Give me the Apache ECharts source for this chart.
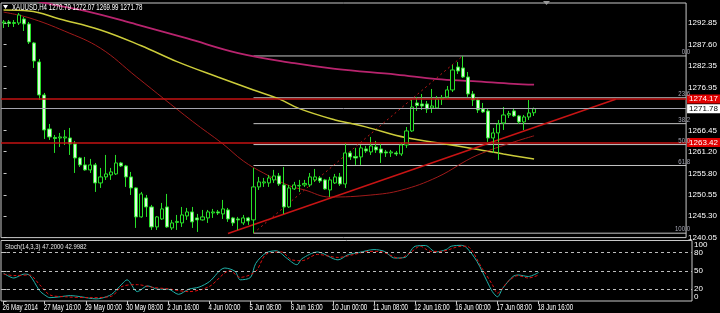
<!DOCTYPE html>
<html><head><meta charset="utf-8">
<script src="https://cdn.jsdelivr.net/npm/echarts@6/dist/echarts.min.js"></script>
<style>html,body{margin:0;padding:0;background:#000;}#c{width:720px;height:313px;}</style>
</head><body><div id="c"></div>
<script>
// ---- data (XAUUSD H4) ----
const tickBars = [0, 8, 16, 24, 32, 40, 48, 56, 64, 72, 80, 88, 96, 104];
const tickLabels = ['26 May 2014', '27 May 16:00', '29 May 00:00', '30 May 08:00', '2 Jun 16:00', '4 Jun 00:00', '5 Jun 08:00', '6 Jun 16:00', '10 Jun 00:00', '11 Jun 08:00', '12 Jun 16:00', '16 Jun 00:00', '17 Jun 08:00', '18 Jun 16:00'];
const priceTicks = [1292.85, 1287.60, 1282.35, 1276.95, 1266.45, 1261.20, 1255.80, 1250.55, 1245.30, 1240.05];

const opens = [1292.92,1293.17,1292.80,1292.92,1293.91,1292.68,1288.00,1283.31,1275.17,1266.79,1264.70,1264.57,1264.57,1264.57,1263.09,1259.64,1257.92,1256.69,1257.92,1253.48,1254.96,1255.45,1255.70,1258.41,1257.67,1254.96,1252.25,1245.10,1249.78,1247.56,1242.63,1244.60,1247.56,1242.39,1243.74,1243.62,1245.34,1246.33,1244.85,1244.36,1244.85,1246.08,1246.33,1245.84,1246.82,1244.85,1244.60,1243.62,1244.85,1244.36,1252.50,1253.48,1253.48,1254.22,1255.20,1252.99,1247.56,1252.00,1252.74,1252.99,1252.99,1254.22,1254.71,1254.22,1251.75,1253.48,1254.96,1253.23,1260.88,1260.01,1259.89,1261.86,1261.12,1262.35,1261.86,1261.12,1260.88,1260.88,1260.63,1262.85,1266.30,1273.20,1272.95,1272.95,1271.97,1271.97,1274.19,1274.68,1276.41,1282.07,1281.83,1279.61,1275.42,1273.94,1271.72,1271.23,1264.57,1265.81,1268.27,1270.24,1271.23,1270.00,1268.52,1269.75,1270.79];
const closes = [1293.17,1292.80,1293.04,1294.89,1292.68,1288.24,1283.55,1275.17,1266.54,1264.82,1264.45,1264.82,1264.82,1263.09,1259.64,1257.92,1256.69,1257.92,1253.48,1254.96,1255.70,1256.19,1258.41,1257.67,1254.96,1252.25,1245.10,1250.77,1247.56,1242.63,1245.10,1247.07,1242.63,1243.62,1243.99,1245.59,1246.33,1243.87,1244.36,1245.10,1246.33,1246.33,1246.08,1247.07,1244.60,1243.62,1244.36,1244.85,1244.11,1252.50,1253.73,1253.73,1254.71,1255.20,1253.23,1247.56,1252.25,1252.99,1252.87,1253.36,1254.96,1254.96,1253.97,1252.00,1254.22,1254.96,1253.23,1260.88,1259.89,1259.64,1262.11,1261.37,1262.60,1261.62,1260.88,1260.88,1261.12,1260.63,1262.85,1266.30,1272.21,1272.58,1272.46,1271.72,1272.46,1274.19,1274.43,1276.41,1281.34,1281.09,1279.61,1275.42,1273.94,1271.48,1270.98,1264.57,1265.81,1268.02,1270.24,1270.61,1270.00,1268.52,1269.75,1270.74,1271.78];
const lows = [1291.69,1291.93,1291.93,1292.43,1290.95,1287.74,1281.83,1273.94,1264.33,1264.08,1260.88,1262.35,1262.85,1260.38,1255.94,1257.42,1256.50,1255.94,1251.26,1252.25,1254.22,1254.22,1255.45,1257.42,1252.50,1250.52,1242.39,1244.90,1245.10,1241.89,1241.89,1244.36,1242.39,1241.89,1241.89,1242.63,1244.36,1242.39,1241.40,1244.20,1243.62,1244.85,1245.59,1244.60,1243.87,1242.88,1241.89,1243.13,1243.13,1241.09,1251.75,1252.50,1252.50,1253.48,1252.74,1245.84,1247.32,1251.75,1251.26,1252.50,1252.50,1253.73,1253.48,1251.80,1250.03,1253.23,1252.74,1252.25,1259.15,1257.92,1257.92,1260.88,1260.38,1260.88,1258.41,1259.89,1259.89,1260.14,1260.14,1262.11,1266.05,1271.23,1271.47,1270.74,1270.74,1271.72,1272.71,1274.43,1275.91,1280.35,1279.36,1274.68,1272.46,1270.74,1270.74,1263.59,1260.88,1259.15,1266.54,1269.50,1269.75,1268.02,1266.54,1269.01,1269.99];
const highs = [1293.66,1293.66,1293.66,1295.39,1294.40,1293.17,1288.24,1284.05,1275.67,1268.02,1265.31,1265.81,1266.54,1267.04,1263.83,1259.89,1259.89,1259.40,1258.41,1257.18,1260.38,1257.18,1260.38,1258.66,1257.92,1256.19,1252.40,1251.26,1250.52,1248.06,1245.30,1248.55,1250.77,1244.36,1245.59,1247.56,1247.32,1247.56,1245.84,1246.82,1246.82,1247.07,1246.82,1249.29,1247.32,1245.10,1245.10,1245.59,1245.10,1257.18,1254.96,1254.71,1255.45,1256.69,1255.94,1257.42,1252.99,1253.73,1254.22,1254.22,1255.94,1256.93,1255.20,1254.47,1254.96,1255.70,1255.94,1263.34,1261.37,1262.11,1262.85,1262.60,1264.82,1263.83,1263.09,1261.62,1261.62,1261.37,1263.34,1267.28,1273.94,1274.68,1275.42,1273.69,1276.65,1274.93,1275.17,1277.39,1282.57,1283.31,1284.79,1280.84,1276.16,1274.43,1273.20,1271.72,1267.04,1269.01,1272.21,1271.23,1271.97,1270.24,1270.24,1273.94,1272.07];

const pinkBars = [3, 8, 16, 26, 36, 46, 57, 65, 77, 85, 92, 100, 104];
const pinkVals = [1299.5, 1297.9, 1295.9, 1292.6, 1289.1, 1285.5, 1283.0, 1281.6, 1280.2, 1279.1, 1278.6, 1277.9, 1277.7];
const yellowBars = [0, 5, 11, 19, 27, 34, 42, 49, 54, 58, 65, 68, 71, 79, 85, 93, 98, 104];
const yellowVals = [1296.1, 1295.9, 1293.9, 1291.2, 1287.3, 1283.4, 1279.6, 1276.4, 1274.2, 1271.8, 1269.0, 1268.2, 1267.3, 1264.6, 1263.4, 1261.7, 1260.6, 1259.4];
const redMaBars = [0, 5, 12, 19, 26, 37, 43, 47, 51, 56, 59, 64, 72, 78, 85, 93, 104];
const redMaVals = [1295.6, 1294.2, 1290.9, 1286.7, 1279.7, 1268.7, 1263.1, 1258.9, 1255.9, 1252.8, 1251.75, 1250.0, 1250.5, 1251.7, 1254.9, 1260.4, 1265.1];

const trendBars = [44, 120];
const trendVals = [1241.0, 1274.1];
const fibBaseBars = [49, 90];
const fibBaseVals = [1241.09, 1284.79];
const fibNames = ['0.0', '23.6', '38.2', '50.0', '61.8', '100.0'];
const fibPrices = [1284.79, 1274.48, 1268.10, 1262.94, 1257.78, 1241.09];
const redLevels = [1274.17, 1263.42];
const bidPrice = 1271.78;

const kBars = [0,2,4,5,7,8,9,11,13,15,18,19,21,23,24,26,28,30,32,34,36,38,40,43,45,46,48,49,51,53,55,57,58,61,65,67,69,72,74,76,78,80,82,84,86,87,89,90,92,94,95,96,97,99,100,102,104];
const kVals = [46,38,44.5,43,17,10,5.5,7,9,7,3.5,4.5,11,28,35,15.5,25,19.5,19.5,11,19.5,23,32,54.5,49,35,39,62,79.5,83,71,60,70,81,68,76.7,80,85,82,71,72,90.5,91.7,81,85,90.5,92,88,65.5,32,15.5,7,21,40.5,43,40.5,47.2];
const dBars = [0,2,5,7,9,12,17,21,23,26,29,32,36,40,44,46,49,51,54,56,58,61,65,68,71,73,77,79,81,83,85,89,90,93,95,96,98,100,102,104];
const dVals = [44.5,42,43,27,10,7,5.5,8,24,27,22.5,20,15.5,24,50,39,49,77,81,68,66.7,77,72,76.7,82,82,70.5,79.5,90.5,82,82,90.5,90.5,54,27,13,32,42,38,43];
const stochLevels = [80, 50, 20];
const stochTicks = [0, 20, 50, 80, 100];
const headerText = 'XAUUSD,H4 1270.79 1272.07 1269.99 1271.78';
const stochText = 'Stoch(14,3,3) 47.2000 42.9982';

// ---- chart ----
const FONT = '"Liberation Sans",Arial,sans-serif';
const XMIN = -0.5, XMAX = 133.8;
const pairs = (b, v) => b.map((x, i) => [x, v[i]]);
const candles = opens.map((o, i) => [i, o, closes[i], lows[i], highs[i]]);
const frame = '#c8c8c8';

const fibSeries = fibPrices.map((p, i) => ({
  type: 'line', xAxisIndex: 0, yAxisIndex: 0, z: 1, silent: true,
  showSymbol: false, symbol: 'none',
  lineStyle: { color: '#c4c4c4', width: 1 },
  data: [[fibBaseBars[0], p], [XMAX, p]]
}));

const chart = echarts.init(document.getElementById('c'), null, { renderer: 'canvas' });
chart.setOption({
  backgroundColor: '#000',
  animation: false,
  grid: [
    { left: 1, top: 3, width: 691, height: 234.6, show: true, borderColor: frame, borderWidth: 1 },
    { left: 1, top: 240.5, width: 691, height: 60.5, show: true, borderColor: frame, borderWidth: 1 }
  ],
  xAxis: [
    { type: 'value', gridIndex: 0, min: XMIN, max: XMAX, show: false },
    { type: 'value', gridIndex: 1, min: XMIN, max: XMAX,
      axisLine: { show: false }, splitLine: { show: false },
      axisTick: { show: true, customValues: tickBars, length: 3, lineStyle: { color: frame } },
      axisLabel: { show: false } }
  ],
  yAxis: [
    { type: 'value', gridIndex: 0, position: 'right', min: 1240.0, max: 1297.85, scale: true,
      axisLine: { show: false }, splitLine: { show: false },
      axisTick: { show: true, customValues: priceTicks, length: 3, lineStyle: { color: frame } },
      axisLabel: { show: true, customValues: priceTicks, margin: 2, color: '#fff', fontSize: 8,
        fontFamily: FONT, formatter: v => v.toFixed(2) } },
    { type: 'value', gridIndex: 1, position: 'right', min: 0, max: 100,
      axisLine: { show: false }, splitLine: { show: false },
      axisTick: { show: true, customValues: stochTicks, length: 3, lineStyle: { color: frame } },
      axisLabel: { show: true, customValues: stochTicks, margin: 2, color: '#fff', fontSize: 8,
        fontFamily: FONT,
        formatter: v => v === 100 ? '{t|100}' : (v === 0 ? '{b|0}' : String(v)),
        rich: { t: { padding: [8, 0, 0, 0], fontSize: 8, color: '#fff' }, b: { padding: [0, 0, 8, 0], fontSize: 8, color: '#fff' } } } }
  ],
  series: [
    ...fibSeries,
    { type: 'line', name: 'fibBase', xAxisIndex: 0, yAxisIndex: 0, z: 2, silent: true, symbol: 'none',
      lineStyle: { color: '#c01818', width: 1, type: [2, 3] }, data: pairs(fibBaseBars, fibBaseVals) },
    { type: 'line', name: 'MA pink', xAxisIndex: 0, yAxisIndex: 0, z: 2, silent: true, symbol: 'none', smooth: 0.4,
      lineStyle: { color: '#b8246e', width: 1.8 }, data: pairs(pinkBars, pinkVals) },
    { type: 'line', name: 'MA yellow', xAxisIndex: 0, yAxisIndex: 0, z: 2, silent: true, symbol: 'none', smooth: 0.4,
      lineStyle: { color: '#cccc3a', width: 1.5 }, data: pairs(yellowBars, yellowVals) },
    { type: 'line', name: 'MA red', xAxisIndex: 0, yAxisIndex: 0, z: 2, silent: true, symbol: 'none', smooth: 0.4,
      lineStyle: { color: '#a01a1a', width: 1 }, data: pairs(redMaBars, redMaVals) },
    { type: 'line', name: 'trend', xAxisIndex: 0, yAxisIndex: 0, z: 2, silent: true, symbol: 'none',
      lineStyle: { color: '#c81414', width: 1.5 }, data: pairs(trendBars, trendVals) },
    { type: 'candlestick', name: 'XAUUSD', xAxisIndex: 0, yAxisIndex: 0, z: 3, barWidth: 3.6,
      itemStyle: { color: '#000', color0: '#dcfadc', borderColor: '#28e028', borderColor0: '#28e028', borderWidth: 1 },
      data: candles,
      markLine: { symbol: 'none', silent: true, animation: false, z: 4,
        data: [
          ...redLevels.map(p => ({ yAxis: p, lineStyle: { color: '#c41212', width: 1.5, type: 'solid' },
            label: { show: true, position: 'end', distance: 1, formatter: p.toFixed(2), color: '#fff',
              backgroundColor: '#e00000', padding: [1, 2, 0, 2], fontSize: 8, fontFamily: FONT } })),
          { yAxis: bidPrice, lineStyle: { color: '#a4a4ae', width: 1, type: 'solid' },
            label: { show: true, position: 'end', distance: 1, formatter: bidPrice.toFixed(2), color: '#000',
              backgroundColor: '#fff', padding: [1, 2, 0, 2], fontSize: 8, fontFamily: FONT } }
        ] } },
    { type: 'line', name: '%K', xAxisIndex: 1, yAxisIndex: 1, symbol: 'none', smooth: 0.3, silent: true,
      lineStyle: { color: '#20b2aa', width: 1 }, data: pairs(kBars, kVals),
      markLine: { symbol: 'none', silent: true, animation: false, label: { show: false },
        lineStyle: { color: '#bdbdbd', width: 1, type: [3, 3] },
        data: stochLevels.map(v => ({ yAxis: v })) } },
    { type: 'line', name: '%D', xAxisIndex: 1, yAxisIndex: 1, symbol: 'none', smooth: 0.3, silent: true,
      lineStyle: { color: '#e01010', width: 1, type: [3, 2] }, data: pairs(dBars, dVals) }
  ]
});

// Condensed texts (the reference uses a narrow bitmap font): positioned through the axes.
function txt(x, y, text, fill, size, sx, align) {
  return { type: 'text', x: x, y: y, scaleX: sx, z: 50, silent: true,
    style: { text: text, fill: fill, font: size + 'px "Liberation Sans"',
      align: align || 'left', textAlign: align || 'left', verticalAlign: 'middle', textVerticalAlign: 'middle' } };
}
const g = [
  { type: 'polygon', shape: { points: [[543, 1], [550, 1], [546.5, 5]] }, style: { fill: '#9a9a9a' }, z: 100 },
  { type: 'polygon', shape: { points: [[3, 5], [8, 5], [5.5, 9]] }, style: { fill: '#ffffff' }, z: 100 },
  txt(12, 7.5, headerText, '#ffffff', 8.5, 0.72),
  txt(5, 246.5, stochText, '#e8e8e8', 8, 0.74)
];
tickBars.forEach((b, i) => {
  const x = chart.convertToPixel({ xAxisIndex: 1 }, b);
  g.push(txt(x - 1, 307.5, tickLabels[i], '#ffffff', 8.5, 0.72));
});
fibPrices.forEach((p, i) => {
  const y = chart.convertToPixel({ yAxisIndex: 0 }, p);
  g.push(txt(690, y - 4, fibNames[i], '#a9aab8', 8, 0.75, 'right'));
});
chart.setOption({ graphic: g });
</script>
</body></html>
